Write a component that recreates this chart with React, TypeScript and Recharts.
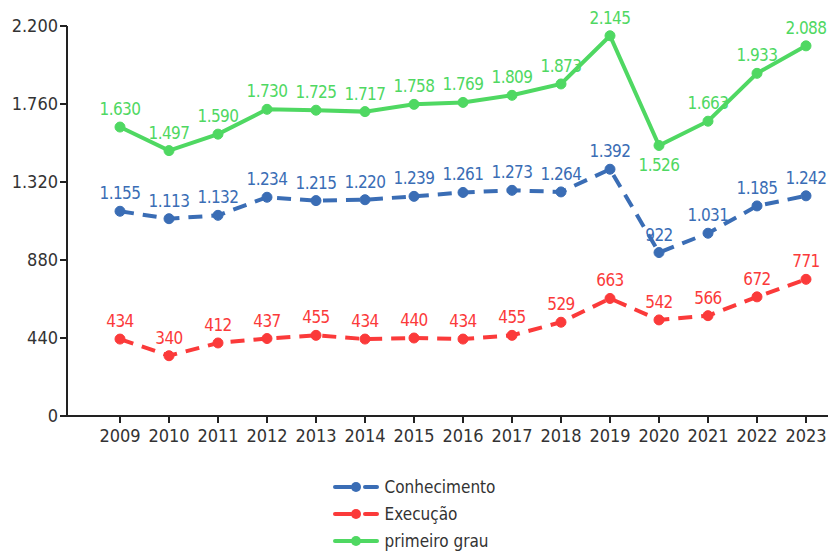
import { LabelList, Legend, Line, LineChart, XAxis, YAxis } from "recharts";

const years = ["2009", "2010", "2011", "2012", "2013", "2014", "2015", "2016", "2017", "2018", "2019", "2020", "2021", "2022", "2023"];
const conhecimento = [1155, 1113, 1132, 1234, 1215, 1220, 1239, 1261, 1273, 1264, 1392, 922, 1031, 1185, 1242];
const execucao = [434, 340, 412, 437, 455, 434, 440, 434, 455, 529, 663, 542, 566, 672, 771];
const primeiroGrau = [1630, 1497, 1590, 1730, 1725, 1717, 1758, 1769, 1809, 1873, 2145, 1526, 1663, 1933, 2088];
const yTicks = [0, 440, 880, 1320, 1760, 2200];

const BLUE = "#3a6db5";
const RED = "#fb3a3a";
const GREEN = "#4fd862";
const FONT = "'Liberation Sans Narrow', 'DejaVu Sans Condensed', Roboto, sans-serif";

const data = years.map((year, i) => ({
  year,
  conhecimento: conhecimento[i],
  execucao: execucao[i],
  primeiroGrau: primeiroGrau[i],
}));

const fmt = (v: number) => String(v).replace(/\B(?=(\d{3})+(?!\d))/g, ".");

const makeLabel = (color: string, below: number[] = []) => (props: any) => {
  const { x, y, value, index } = props;
  const dy = below.includes(index) ? 26 : -12;
  return (
    <text x={x} y={y + dy} textAnchor="middle" fill={color} fontSize={17} letterSpacing={-0.6} fontFamily={FONT}>
      {fmt(Number(value))}
    </text>
  );
};

const legendItems = [
  { name: "Conhecimento", color: BLUE, dashed: true },
  { name: "Execução", color: RED, dashed: true },
  { name: "primeiro grau", color: GREEN, dashed: false },
];

function LegendBox() {
  return (
    <div style={{ height: 108, paddingTop: 27, boxSizing: "border-box", display: "flex", justifyContent: "center" }}>
      <div>
        {legendItems.map((item) => (
          <div key={item.name} style={{ display: "flex", alignItems: "center", height: 27 }}>
            <svg width={46} height={14} style={{ marginRight: 6 }}>
              {item.dashed ? (
                <>
                  <line x1={2} y1={7} x2={18} y2={7} stroke={item.color} strokeWidth={4} strokeLinecap="round" />
                  <line x1={32} y1={7} x2={44} y2={7} stroke={item.color} strokeWidth={4} strokeLinecap="round" />
                </>
              ) : (
                <line x1={2} y1={7} x2={44} y2={7} stroke={item.color} strokeWidth={4} strokeLinecap="round" />
              )}
              <circle cx={23} cy={7} r={5} fill={item.color} />
            </svg>
            <span style={{ fontFamily: FONT, fontSize: 17, color: "#333" }}>{item.name}</span>
          </div>
        ))}
      </div>
    </div>
  );
}

export default function App() {
  return (
    <div style={{ position: "absolute", left: 0, top: 0, width: 830, height: 554, background: "#fff" }}>
      <LineChart width={830} height={554} data={data} margin={{ top: 26, right: 2, bottom: 0, left: 0 }}>
        <XAxis
          dataKey="year"
          scale="point"
          padding={{ left: 53, right: 22 }}
          height={30}
          axisLine={{ stroke: "#222", strokeWidth: 2 }}
          tickLine={{ stroke: "#222", strokeWidth: 2 }}
          tickSize={7}
          tick={{ fill: "#333", fontSize: 18, fontFamily: FONT, dy: 4 }}
          interval={0}
        />
        <YAxis
          width={67}
          domain={[0, 2200]}
          ticks={yTicks}
          tickFormatter={(v) => fmt(Number(v))}
          axisLine={{ stroke: "#222", strokeWidth: 2 }}
          tickLine={{ stroke: "#222", strokeWidth: 2 }}
          tickSize={7}
          tick={{ fill: "#333", fontSize: 18, fontFamily: FONT }}
        />
        <Legend verticalAlign="bottom" content={() => <LegendBox />} />
        <Line
          dataKey="conhecimento"
          name="Conhecimento"
          stroke={BLUE}
          strokeWidth={4}
          strokeDasharray="14 9"
          dot={{ r: 5, fill: BLUE, stroke: BLUE, strokeWidth: 1, strokeDasharray: "" }}
          isAnimationActive={false}
        >
          <LabelList dataKey="conhecimento" content={makeLabel(BLUE)} />
        </Line>
        <Line
          dataKey="execucao"
          name="Execução"
          stroke={RED}
          strokeWidth={4}
          strokeDasharray="14 9"
          dot={{ r: 5, fill: RED, stroke: RED, strokeWidth: 1, strokeDasharray: "" }}
          isAnimationActive={false}
        >
          <LabelList dataKey="execucao" content={makeLabel(RED)} />
        </Line>
        <Line
          dataKey="primeiroGrau"
          name="primeiro grau"
          stroke={GREEN}
          strokeWidth={4}
          dot={{ r: 5, fill: GREEN, stroke: GREEN, strokeWidth: 1 }}
          isAnimationActive={false}
        >
          <LabelList dataKey="primeiroGrau" content={makeLabel(GREEN, [11])} />
        </Line>
      </LineChart>
    </div>
  );
}
